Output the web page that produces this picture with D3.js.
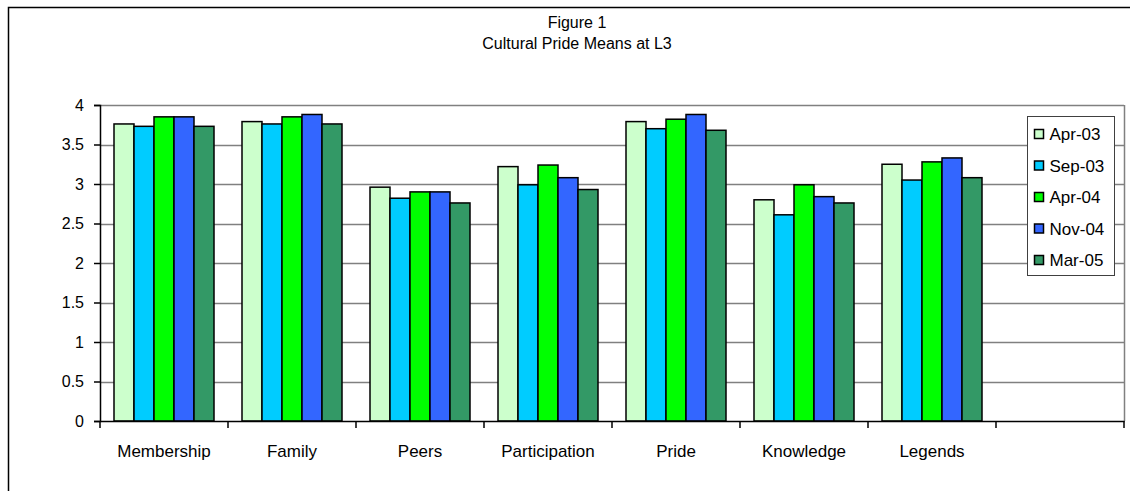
<!DOCTYPE html>
<html>
<head>
<meta charset="utf-8">
<script src="https://cdn.jsdelivr.net/npm/d3@7"></script>
<style>
  body { margin: 0; background: #fff; }
  text { font-family: "Liberation Sans", Arial, sans-serif; fill: #000; }
</style>
</head>
<body>
<svg id="chart"></svg>
<script>
let svgW = 1130, svgH = 491;

let margin = { top: 105, right: 6, bottom: 70, left: 100 }

// data
let categories = ["Membership", "Family", "Peers", "Participation", "Pride", "Knowledge", "Legends", ""];
let seriesNames = ["Apr-03", "Sep-03", "Apr-04", "Nov-04", "Mar-05"];
let seriesColors = ["#ccffcc", "#00ccff", "#00ff00", "#3366ff", "#339966"];
let apr03 = [3.76, 3.79, 2.96, 3.22, 3.79, 2.80, 3.25];
let sep03 = [3.73, 3.76, 2.82, 2.99, 3.70, 2.61, 3.05];
let apr04 = [3.85, 3.85, 2.90, 3.24, 3.82, 2.99, 3.28];
let nov04 = [3.85, 3.88, 2.90, 3.08, 3.88, 2.84, 3.33];
let mar05 = [3.73, 3.76, 2.76, 2.93, 3.68, 2.76, 3.08];
let yTicks = [0, 0.5, 1, 1.5, 2, 2.5, 3, 3.5, 4];

let seriesValues = [apr03, sep03, apr04, nov04, mar05];

let svg = d3.select("#chart")
    .attr("width", svgW)
    .attr("height", svgH)

// outer chart border (only top and left show in the picture)
svg.append("rect")
    .attr("x", 8.5).attr("y", 7.5)
    .attr("width", 1200).attr("height", 600)
    .attr("fill", "none")
    .attr("stroke", "#000")
    .attr("stroke-width", 1.5)

let plotR = svgW - margin.right, plotB = svgH - margin.bottom;

let x0 = d3.scaleBand()
    .domain(categories)
    .range([margin.left, plotR])
    .padding(0)

let x1 = d3.scaleBand()
    .domain(seriesNames)
    .range([0, x0.bandwidth()])
    .paddingInner(0)
    .paddingOuter(0.7)

let yScale = d3.scaleLinear()
    .domain([0, 4])
    .range([plotB, margin.top])

// gridlines
svg.append("g")
    .selectAll("line")
    .data(yTicks.filter(d => d > 0))
    .enter()
    .append("line")
    .attr("x1", margin.left).attr("x2", plotR)
    .attr("y1", d => Math.round(yScale(d)) + 0.5)
    .attr("y2", d => Math.round(yScale(d)) + 0.5)
    .attr("stroke", "#808080")
    .attr("stroke-width", 1.5)

// right side of plot area
svg.append("line")
    .attr("x1", plotR + 0.5).attr("x2", plotR + 0.5)
    .attr("y1", yScale(4)).attr("y2", plotB)
    .attr("stroke", "#808080")
    .attr("stroke-width", 1.5)

// bars
let groups = svg.append("g")
    .selectAll("g")
    .data(categories.slice(0, 7))
    .enter()
    .append("g")
    .attr("transform", d => "translate(" + x0(d) + ",0)")

groups.selectAll("rect")
    .data((d, i) => seriesNames.map((s, j) => ({ s: s, v: seriesValues[j][i], c: seriesColors[j] })))
    .enter()
    .append("rect")
    .attr("x", d => x1(d.s))
    .attr("y", d => yScale(d.v))
    .attr("width", x1.bandwidth())
    .attr("height", d => plotB - yScale(d.v))
    .attr("fill", d => d.c)
    .attr("stroke", "#000")
    .attr("stroke-width", 1.5)

// y axis
let yAxis = d3.axisLeft(yScale)
    .tickValues(yTicks)
    .tickSize(6)
    .tickPadding(10)
    .tickFormat(d => String(d))

let yG = svg.append("g")
    .attr("transform", "translate(" + margin.left + ",0)")
    .call(yAxis)
yG.select(".domain").attr("stroke", "#000").attr("stroke-width", 1.5)
yG.selectAll(".tick line").attr("stroke", "#000").attr("stroke-width", 1.5)
yG.selectAll(".tick text")
    .style("font-size", "16px")
    .attr("font-family", null)

// x axis: ticks sit on category boundaries
let xAxis = d3.axisBottom(x0)
    .tickSize(0)
    .tickPadding(24)

let xG = svg.append("g")
    .attr("transform", "translate(0," + plotB + ")")
    .call(xAxis)
xG.select(".domain").attr("stroke", "#000").attr("stroke-width", 1.5)
xG.selectAll(".tick text")
    .style("font-size", "17px")
    .attr("font-family", null)

xG.selectAll(".boundary")
    .data(categories.map(d => x0(d)).concat([plotR]))
    .enter()
    .append("line")
    .attr("class", "boundary")
    .attr("x1", d => d).attr("x2", d => d)
    .attr("y1", 0).attr("y2", 7)
    .attr("stroke", "#000")
    .attr("stroke-width", 1.5)

// title
svg.append("text")
    .attr("x", 577).attr("y", 28)
    .attr("text-anchor", "middle")
    .style("font-size", "16px")
    .text("Figure 1")

svg.append("text")
    .attr("x", 577).attr("y", 49)
    .attr("text-anchor", "middle")
    .style("font-size", "16px")
    .text("Cultural Pride Means at L3")

// legend
let legend = svg.append("g")
    .attr("transform", "translate(1027.5,116.5)")

legend.append("rect")
    .attr("width", 87).attr("height", 159)
    .attr("fill", "#fff")
    .attr("stroke", "#404040")
    .attr("stroke-width", 1)

let item = legend.selectAll(".item")
    .data(seriesNames)
    .enter()
    .append("g")
    .attr("class", "item")
    .attr("transform", (d, i) => "translate(7," + (17.5 + i * 31.5) + ")")

item.append("rect")
    .attr("x", 0).attr("y", -4.5)
    .attr("width", 9).attr("height", 9)
    .attr("fill", (d, i) => seriesColors[i])
    .attr("stroke", "#000")
    .attr("stroke-width", 1.5)

item.append("text")
    .attr("x", 15).attr("y", 6)
    .style("font-size", "17px")
    .text(d => d)
</script>
</body>
</html>
